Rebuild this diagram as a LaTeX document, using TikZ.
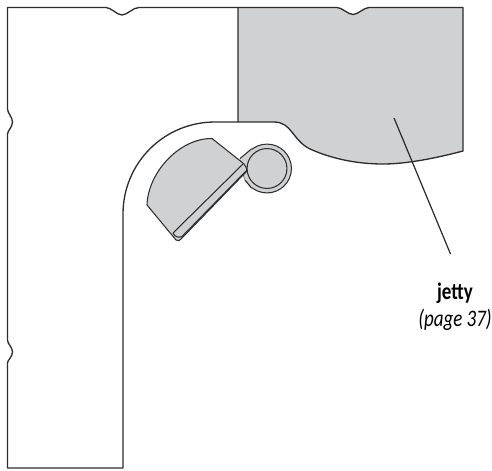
\documentclass[tikz,border=0pt]{standalone}
\usepackage{fontspec}
\setmainfont{Carlito}
\definecolor{jettygray}{RGB}{208,209,211}
\definecolor{linegray}{RGB}{45,45,45}
\tikzset{
  outline/.style={draw=linegray,line width=0.75pt,line join=round},
  thinline/.style={outline,line width=0.6pt},
  boat/.style={thinline,fill=jettygray},
  wheel/.style={circle,boat,inner sep=0pt},
  labeltext/.style={inner sep=0pt,xscale=0.8,font=\fontsize{13.5}{13.5}\selectfont},
}
\begin{document}
\begin{tikzpicture}[x=0.02cm,y=-0.02cm]
\useasboundingbox (0,0) rectangle (492,470);

% ============================================
% QUAY – LEFT AND TOP EDGE, ROUNDED CORNER
% ============================================
        \draw[outline] (238,122) -- (215,122)
                .. controls (164,122) and (123,163) .. (123,214)
                -- (123,468) -- (7.5,468) -- (7.5,363)
                .. controls (7.5,360) and (12.5,357) .. (12.5,352)
                .. controls (12.5,347) and (7.5,344) .. (7.5,340)
                -- (7.5,134)
                .. controls (7.5,131) and (12.5,127) .. (12.5,122)
                .. controls (12.5,117) and (7.5,113) .. (7.5,109)
                -- (7.5,7.5) -- (106,7.5)
                .. controls (111,7.5) and (117,15) .. (122,15)
                .. controls (127,15) and (133,7.5) .. (139,7.5)
                -- (238,7.5);

% ============================================
% JETTY
% ============================================
        \draw[outline,fill=jettygray] (238,122) -- (238,7.5) -- (337,7.5)
                .. controls (342,7.5) and (348,14.5) .. (353,14.5)
                .. controls (358,14.5) and (364,7.5) .. (369,7.5)
                -- (463,7.5) -- (463,151)
                .. controls (425,161) and (400,164) .. (383,164)
                .. controls (355,164) and (330,158) .. (310,149)
                .. controls (292,140) and (292,122) .. (274,122)
                -- cycle;

% ============================================
% BOAT
% ============================================
        % Collar and wheel
        \node[wheel,minimum size=27.8pt] (collar) at (267,168.5) {};
        \coordinate (hullA) at (240,158.5);
        \coordinate (hullB) at (245,180);
        \fill[jettygray] (hullA) -- (collar.128) -- (collar.center) -- (collar.232) -- (hullB) -- cycle;
        \draw[thinline] (hullA) -- (collar.128);
        \draw[thinline] (hullB) -- (collar.232);
        \node[wheel,minimum size=22.7pt] (wheel) at (267,168.5) {};
        % Hull
        \draw[boat] (212,138.5) -- (241,161.5)
                .. controls (246,165) and (248,170) .. (246,172)
                -- (181,239) .. controls (180,241) and (178,241) .. (176,240)
                -- (147,205)
                .. controls (148,172) and (180,138) .. (212,138.5) -- cycle;
        % Strip along the hull
        \draw[thinline] (173,233) -- (243,164);
        \draw[thinline] (173,233) .. controls (175,237) and (178,238) .. (182,236.5) -- (246,171);

% ============================================
% LABEL
% ============================================
        \coordinate (tip) at (394,118);
        \coordinate (end) at (450.5,254);
        \node[labeltext] (jetty) at (455,293) {\textbf{jetty}};
        \node[labeltext] (page) at (455,320) {\textit{(page 37)}};
        \draw[draw=linegray,line width=0.7pt] (tip) -- (end);
\end{tikzpicture}
\end{document}
